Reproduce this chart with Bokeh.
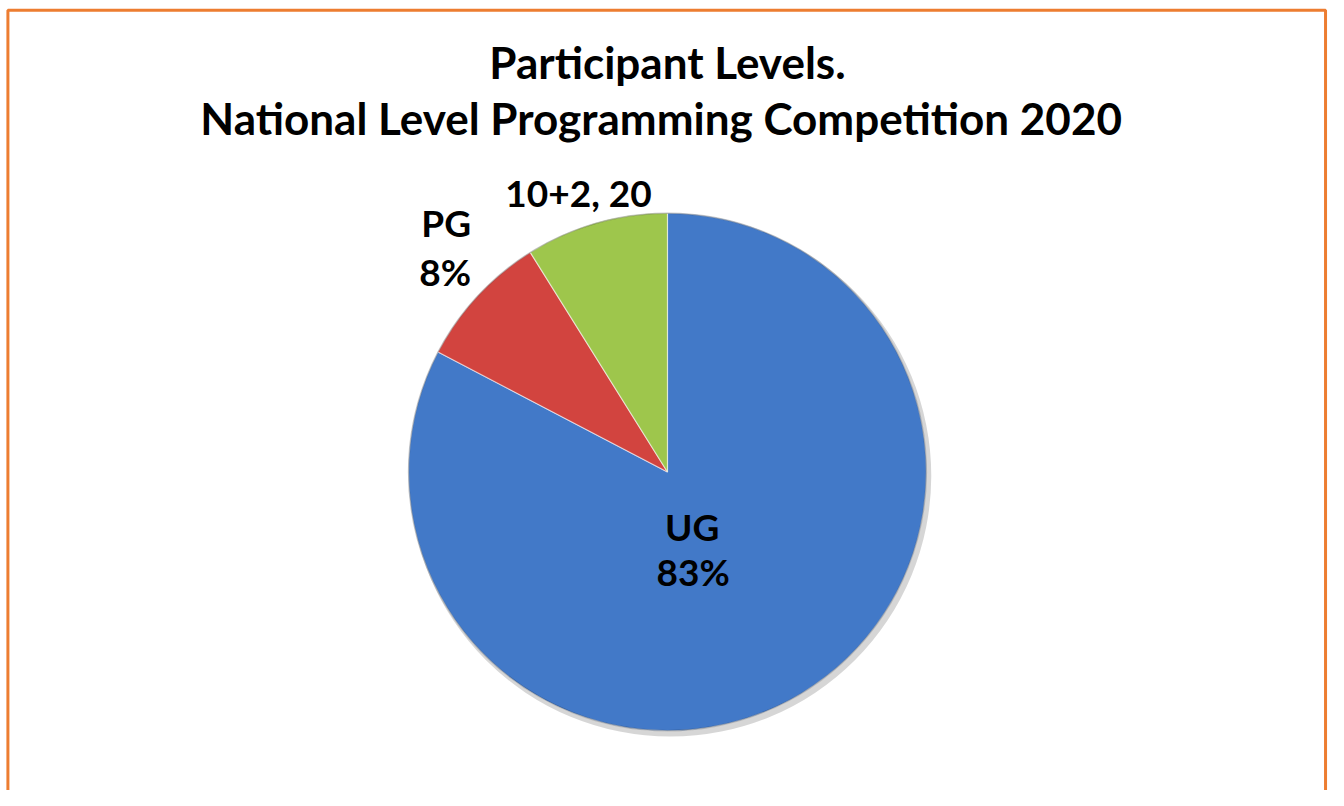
import math
from bokeh.plotting import figure
from bokeh.models import Range1d, ColumnDataSource
from bokeh.core.properties import value
from bokeh.embed import file_html
from bokeh.resources import INLINE

# ---- data ----
categories = ["UG", "PG", "10+2"]
counts = [186, 19, 20]
title_lines = ["Participant Levels.", "National Level Programming Competition  2020"]

# ---- style / layout (coordinates in reference-image pixels, y measured from bottom) ----
colors = ["#4279c8", "#d2443f", "#9ec64c"]
REF_W, REF_H = 1344, 806
W, H = 1328, 790
CX, CY, R = 675, REF_H - 481, 262
FONT = value("Lato")

p = figure(width=W, height=H, x_range=Range1d(0, REF_W), y_range=Range1d(0, REF_H),
           output_backend="svg", toolbar_location=None, min_border=0)
p.axis.visible = False
p.grid.visible = False
p.outline_line_color = None
p.background_fill_color = "white"
p.border_fill_color = "white"

# orange frame
p.quad(left=[7.5], right=[1341], top=[REF_H - 10], bottom=[-20], fill_color=None,
       line_color="#ED7D31", line_width=3)

# wedge angles (start at 12 o'clock, clockwise)
total = sum(counts)
starts, ends = [], []
acc = 0.0
for c in counts:
    a0 = math.pi / 2 - 2 * math.pi * acc / total
    acc += c
    a1 = math.pi / 2 - 2 * math.pi * acc / total
    starts.append(a0)
    ends.append(a1)

src = ColumnDataSource(dict(cat=categories, start=starts, end=ends, color=colors))

# soft shadow
p.circle(x=[CX + 3], y=[CY - 4], radius=R + 2, fill_color="#000000", fill_alpha=0.16,
         line_color=None)
p.wedge(x=CX, y=CY, radius=R, start_angle="start", end_angle="end", direction="clock",
        fill_color="color", line_color="white", line_alpha=0.55, line_width=1.2, source=src)
p.circle(x=[CX], y=[CY], radius=R, fill_color=None, line_color="#000000",
         line_alpha=0.22, line_width=1.5)

# title
p.text(x=[675, 674], y=[REF_H - 63, REF_H - 120], text=title_lines, text_font=FONT,
       text_font_style="bold", text_font_size="44px", text_align="center",
       text_baseline="middle", text_color="black")

# data labels
def pct(c):
    return f"{round(100 * c / total)}%"

lab_x, lab_y, lab_t = [], [], []
# UG
lab_x += [700, 701]; lab_y += [REF_H - 537, REF_H - 583]; lab_t += [categories[0], pct(counts[0])]
# PG
lab_x += [451, 450]; lab_y += [REF_H - 226, REF_H - 276]; lab_t += [categories[1], pct(counts[1])]
# 10+2
lab_x += [585]; lab_y += [REF_H - 196]; lab_t += [f"{categories[2]}, {counts[2]}"]

p.text(x=lab_x, y=lab_y, text=lab_t, text_font=FONT, text_font_style="bold",
       text_font_size="37px", text_align="center", text_baseline="middle", text_color="black")

open("out.html", "w").write(file_html(p, INLINE))
